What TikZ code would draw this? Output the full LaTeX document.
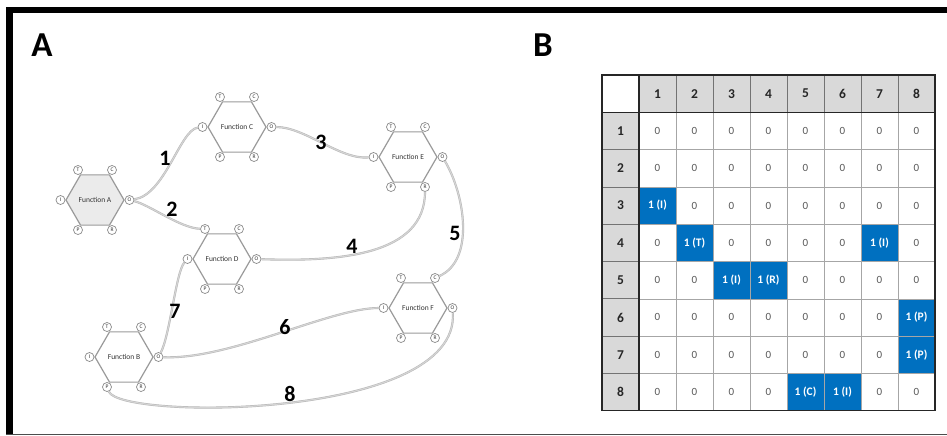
\documentclass[tikz,border=0pt]{standalone}
\usepackage{fontspec}
\setmainfont{Carlito}
\usetikzlibrary{shapes.geometric,calc}
\definecolor{hexgray}{HTML}{9A9A9A}
\definecolor{portgray}{HTML}{8A8A8A}
\definecolor{hexfill}{HTML}{EBEBEB}
\definecolor{linkgray}{HTML}{B4B4B4}
\definecolor{linkfill}{HTML}{D4D4D4}
\definecolor{hdrfill}{HTML}{D9D9D9}
\definecolor{gridgray}{HTML}{A6A6A6}
\definecolor{cellblue}{HTML}{0070C0}
\definecolor{zerogray}{HTML}{595959}
\newcommand\funchex[3][]{%
  \node[hexnode,#1] (#2) at (#3) {Function #2};
  \node[port] (#2-T) at ($(#2)+(-17,-30)$) {T};
  \node[port] (#2-C) at ($(#2)+(17,-30)$) {C};
  \node[port] (#2-I) at ($(#2)+(-34.5,0)$) {I};
  \node[port] (#2-O) at ($(#2)+(34.5,0)$) {O};
  \node[port] (#2-P) at ($(#2)+(-17,30)$) {P};
  \node[port] (#2-R) at ($(#2)+(17,30)$) {R};
}
\begin{document}
\begin{tikzpicture}[x=1pt,y=-1pt,
  hexnode/.style={regular polygon, regular polygon sides=6, minimum size=58pt,
    inner sep=0pt, draw=hexgray, line width=1.2pt, fill=white,
    font=\fontsize{7.5}{8}\selectfont, text=black!80},
  port/.style={circle, draw=portgray, line width=0.7pt, fill=white,
    minimum size=9pt, inner sep=0pt, font=\fontsize{5.5}{6}\selectfont, text=black!80},
  link/.style={draw=linkgray, line width=0.45pt, double=linkfill, double distance=1.2pt},
  numlabel/.style={font=\bfseries\fontsize{22}{22}\selectfont, inner sep=0pt},
  panel/.style={font=\bfseries\fontsize{35}{35}\selectfont, inner sep=0pt},
  hdr/.style={font=\bfseries\fontsize{13.5}{14}\selectfont, text=black!85, inner sep=0pt},
  zero/.style={font=\fontsize{11}{11}\selectfont, text=zerogray, inner sep=0pt},
  one/.style={fill=cellblue, minimum width=37pt, minimum height=37.3pt, inner sep=0pt,
    font=\bfseries\fontsize{11.5}{12}\selectfont, text=white}
]
\useasboundingbox (0,0) rectangle (947,436);
\fill[white] (0,0) rectangle (947,436);
% frame
\fill[black] (6,7) rectangle (947,13);
\fill[black] (6,7) rectangle (13,434);
\draw[black!70, line width=0.8pt] (6,434) -- (947,434);
% panel letters
\node[panel] (lblA) at (42,45) {A};
\node[panel] (lblB) at (543,45) {B};
% hexagons
\funchex[fill=hexfill]{A}{95,200}
\funchex{C}{237,127}
\funchex{E}{408,157}
\funchex{D}{222,259}
\funchex{F}{418,308}
\funchex{B}{124,357}
% links
\draw[link] (A-O) .. controls (165,195) and (180,130) .. (C-I);
\draw[link] (A-O) .. controls (150,205) and (180,228) .. (D-T);
\draw[link] (C-O) .. controls (305,127) and (340,160) .. (E-I);
\draw[link] (D-O) .. controls (340,262) and (425,255) .. (E-R);
\draw[link] (E-O) .. controls (465,195) and (475,260) .. (F-C);
\draw[link] (B-O) .. controls (230,360) and (330,308) .. (F-I);
\draw[link] (B-O) .. controls (170,335) and (176,272) .. (D-I);
\draw[link] (B-P) .. controls (120,420) and (460,420) .. (F-O);
% link numbers
\node[numlabel] (n1) at (165,158) {1};
\node[numlabel] (n2) at (172,209) {2};
\node[numlabel] (n3) at (321,142) {3};
\node[numlabel] (n4) at (352,246) {4};
\node[numlabel] (n5) at (455,233) {5};
\node[numlabel] (n6) at (285,327) {6};
\node[numlabel] (n7) at (175,311) {7};
\node[numlabel] (n8) at (290,394) {8};
% matrix backgrounds
\fill[hdrfill] (639,75) rectangle (935,112.3);
\fill[hdrfill] (602,112.3) rectangle (639,410.7);
% cells
\foreach \r/\row in {1/{0,0,0,0,0,0,0,0},2/{0,0,0,0,0,0,0,0},3/{I,0,0,0,0,0,0,0},
  4/{0,T,0,0,0,0,I,0},5/{0,0,I,R,0,0,0,0},6/{0,0,0,0,0,0,0,P},
  7/{0,0,0,0,0,0,0,P},8/{0,0,0,0,C,I,0,0}}{
  \foreach \v [count=\c] in \row {
    \if0\v\def\cst{zero}\def\ctx{0}\else\def\cst{one}\def\ctx{1 (\v)}\fi
    \node[\cst] (cell-\r-\c) at ({602+37*\c+18.5},{75+37.3*\r+18.65}) {\ctx};
  }
}
% headers
\foreach \k in {1,...,8}{
  \node[hdr] (colh-\k) at ({602+37*\k+18.5},93.65) {\k};
  \node[hdr] (rowh-\k) at (620.5,{75+37.3*\k+18.65}) {\k};
}
% grid
\foreach \k in {2,...,8}{
  \draw[gridgray, line width=0.6pt] ({602+37*\k},112.3) -- ({602+37*\k},410.7);
  \draw[gridgray, line width=0.6pt] (639,{75+37.3*\k}) -- (935,{75+37.3*\k});
  \draw[black!55, line width=0.8pt] ({602+37*\k},75) -- ({602+37*\k},112.3);
  \draw[black!55, line width=0.8pt] (602,{75+37.3*\k}) -- (639,{75+37.3*\k});
}
\draw[black!85, line width=1.4pt] (639,75) -- (639,410.7);
\draw[black!85, line width=1.4pt] (602,112.3) -- (935,112.3);
\draw[black!85, line width=1.2pt] (602,75) rectangle (935,410.7);
\end{tikzpicture}
\end{document}
